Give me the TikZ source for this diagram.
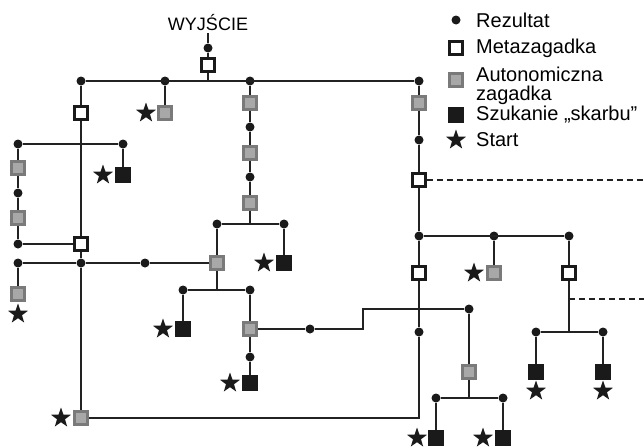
\documentclass[tikz,border=0pt]{standalone}
\usepackage{fontspec}
\setmainfont{Liberation Sans}
\usetikzlibrary{shapes.geometric}

\definecolor{linegray}{HTML}{222222}
\definecolor{autoedge}{HTML}{7A7A7A}
\definecolor{autofill}{HTML}{A8A8A8}
\definecolor{nodeblack}{HTML}{1A1A1A}

\begin{document}
\begin{tikzpicture}
[
	x=1pt, y=-1pt,
	resultpt/.style={circle,fill=nodeblack,inner sep=0pt,minimum size=9pt},
	metabox/.style={rectangle,draw=nodeblack,line width=2.7pt,fill=white,inner sep=0pt,minimum size=12.5pt},
	autobox/.style={rectangle,draw=autoedge,line width=2.7pt,fill=autofill,inner sep=0pt,minimum size=12.5pt},
	treasurebox/.style={rectangle,fill=nodeblack,inner sep=0pt,minimum size=15.5pt},
	startpt/.style={star,star points=5,star point ratio=2.5,fill=nodeblack,inner sep=0pt,minimum size=21pt},
	link/.style={draw=linegray,line width=1.7pt},
	legendtext/.style={anchor=west,inner sep=0pt,font=\fontsize{20}{18.5}\selectfont,align=left},
]

	\useasboundingbox (0,0) rectangle (644,447);

	% exit and top line
	\node[font=\fontsize{18}{20}\selectfont,inner sep=2pt] at (208,23) (exit) {WYJŚCIE};
	\node[resultpt] at (208,48) (r0) {};
	\node[metabox] at (208,65) (m0) {};
	\node[resultpt] at (81,81) (r1) {};
	\node[resultpt] at (165,81) (r2) {};
	\node[resultpt] at (250,81) (r3) {};
	\node[resultpt] at (419,81) (r4) {};

	\draw[link] (exit) -- (r0) -- (m0);
	\draw[link] (m0) -- (m0 |- r1);
	\draw[link] (r1) -- (r4);

	% left part
	\node[metabox] at (81,113) (m1) {};
	\node[autobox] at (165,113) (a1) {};
	\node[startpt] at (146,113) (s1) {};
	\node[resultpt] at (18,144) (r17) {};
	\node[resultpt] at (123,144) (r18) {};
	\node[treasurebox] at (123,175) (t6) {};
	\node[startpt] at (103,175) (s6) {};
	\node[autobox] at (18,168) (a9) {};
	\node[resultpt] at (18,193) (r19) {};
	\node[autobox] at (18,218) (a10) {};
	\node[resultpt] at (18,244) (r20) {};
	\node[metabox] at (81,244) (m2) {};
	\node[resultpt] at (18,263) (r21) {};
	\node[resultpt] at (81,263) (r16) {};
	\node[resultpt] at (145,263) (r22) {};
	\node[autobox] at (18,294) (a11) {};
	\node[startpt] at (18,314) (s11) {};
	\node[autobox] at (81,418) (a8) {};
	\node[startpt] at (61,418) (s8) {};

	\draw[link] (r1) -- (m1) -- (m2) -- (r16) -- (a8);
	\draw[link] (r2) -- (a1);
	\draw[link] (r17) -- (r18) -- (t6);
	\draw[link] (r17) -- (a9) -- (r19) -- (a10) -- (r20) -- (m2);
	\draw[link] (r21) -- (a11);

	% middle column
	\node[autobox] at (250,103) (a2) {};
	\node[resultpt] at (250,127) (r5) {};
	\node[autobox] at (250,153) (a3) {};
	\node[resultpt] at (250,177) (r6) {};
	\node[autobox] at (250,203) (a4) {};
	\node[resultpt] at (217,224) (r7) {};
	\node[resultpt] at (284,224) (r8) {};
	\node[treasurebox] at (284,263) (t1) {};
	\node[startpt] at (264,263) (st1) {};
	\node[autobox] at (217,263) (a5) {};
	\node[resultpt] at (183,290) (r9) {};
	\node[resultpt] at (250,290) (r10) {};
	\node[treasurebox] at (183,329) (t2) {};
	\node[startpt] at (163,329) (st2) {};
	\node[autobox] at (250,329) (a6) {};
	\node[resultpt] at (250,357) (r11) {};
	\node[treasurebox] at (250,383) (t3) {};
	\node[startpt] at (230,383) (st3) {};
	\node[resultpt] at (310,329) (r12) {};
	\coordinate (bend1) at (363,309);
	\node[resultpt] at (469,309) (r13) {};
	\node[autobox] at (469,372) (a7) {};
	\node[resultpt] at (436,398) (r14) {};
	\node[resultpt] at (503,398) (r15) {};
	\node[treasurebox] at (436,438) (t4) {};
	\node[startpt] at (417,438) (st4) {};
	\node[treasurebox] at (503,438) (t5) {};
	\node[startpt] at (483,438) (st5) {};

	\draw[link] (r3) -- (a2) -- (r5) -- (a3) -- (r6) -- (a4);
	\draw[link] (a4) -- (a4 |- r7);
	\draw[link] (r7) -- (r8) -- (t1);
	\draw[link] (r7) -- (a5);
	\draw[link] (r21) -- (r16) -- (r22) -- (a5);
	\draw[link] (a5) -- (a5 |- r9);
	\draw[link] (r9) -- (r10);
	\draw[link] (r9) -- (t2);
	\draw[link] (r10) -- (a6) -- (r11) -- (t3);
	\draw[link] (a6) -- (r12);
	\draw[link] (r12) -| (bend1) -- (r13);
	\draw[link] (r13) -- (a7) -- (a7 |- r14);
	\draw[link] (r14) -- (r15);
	\draw[link] (r14) -- (t4);
	\draw[link] (r15) -- (t5);

	% right part
	\node[autobox] at (419,103) (a12) {};
	\node[resultpt] at (419,140) (r25) {};
	\node[metabox] at (419,180) (m4) {};
	\coordinate (edge1) at (644,180);
	\node[resultpt] at (419,236) (r24) {};
	\node[resultpt] at (494,236) (r26) {};
	\node[resultpt] at (569,236) (r27) {};
	\node[metabox] at (419,273) (m3) {};
	\node[resultpt] at (419,332) (r23) {};
	\node[autobox] at (494,273) (a13) {};
	\node[startpt] at (474,273) (st13) {};
	\node[metabox] at (569,273) (m5) {};
	\coordinate (dash2) at (569,299);
	\coordinate (edge2) at (644,299);
	\node[resultpt] at (536,332) (r28) {};
	\node[resultpt] at (603,332) (r29) {};
	\node[treasurebox] at (536,372) (t7) {};
	\node[startpt] at (536,391) (st7) {};
	\node[treasurebox] at (603,372) (t8) {};
	\node[startpt] at (603,391) (st8) {};

	\draw[link] (r4) -- (a12) -- (r25) -- (m4) -- (r24);
	\draw[link,dash pattern=on 6pt off 4pt] (m4) -- (edge1);
	\draw[link] (r24) -- (m3) -- (r23) -- (r23 |- a8) -- (a8);
	\draw[link] (r24) -- (r27);
	\draw[link] (r26) -- (a13);
	\draw[link] (r27) -- (m5) -- (m5 |- r28);
	\draw[link,dash pattern=on 6pt off 4pt] (dash2) -- (edge2);
	\draw[link] (r28) -- (r29);
	\draw[link] (r28) -- (t7);
	\draw[link] (r29) -- (t8);

	% legend
	\node[resultpt] at (456,20) (lg1) {};
	\node[metabox] at (456,48) (lg2) {};
	\node[autobox] at (456,80) (lg3) {};
	\node[treasurebox] at (456,115) (lg4) {};
	\node[startpt] at (456,140) (lg5) {};
	\node[legendtext] at (476,20) (lt1) {Rezultat};
	\node[legendtext] at (476,48) (lt2) {Metazagadka};
	\node[legendtext] at (476,86) (lt3) {Autonomiczna\\zagadka};
	\node[legendtext] at (476,115) (lt4) {Szukanie „skarbu”};
	\node[legendtext] at (476,140) (lt5) {Start};

\end{tikzpicture}
\end{document}
